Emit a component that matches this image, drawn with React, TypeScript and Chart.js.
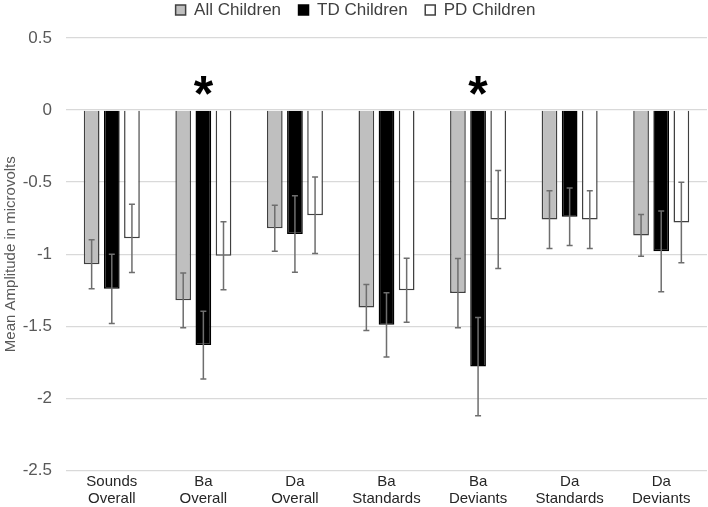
import React, { useEffect, useRef } from "react";
import { Chart, registerables } from "chart.js";

Chart.register(...registerables);

const categories: string[][] = [
  ["Sounds", "Overall"],
  ["Ba", "Overall"],
  ["Da", "Overall"],
  ["Ba", "Standards"],
  ["Ba", "Deviants"],
  ["Da", "Standards"],
  ["Da", "Deviants"],
];

const allChildren = [-1.07, -1.32, -0.82, -1.37, -1.27, -0.76, -0.87];
const tdChildren = [-1.24, -1.63, -0.86, -1.49, -1.78, -0.74, -0.98];
const pdChildren = [-0.89, -1.01, -0.73, -1.25, -0.76, -0.76, -0.78];

const allErr = [0.17, 0.19, 0.16, 0.16, 0.24, 0.2, 0.145];
const tdErr = [0.24, 0.235, 0.265, 0.223, 0.34, 0.2, 0.28];
const pdErr = [0.237, 0.236, 0.266, 0.222, 0.34, 0.2, 0.28];

// categories marked with an asterisk (significant)
const significant = [1, 4];
const asteriskValue = 0.17;

const FONT = "'Liberation Sans', Arial, sans-serif";

const errorBarPlugin = {
  id: "errorBars",
  afterDatasetsDraw(chart: any) {
    const ctx = chart.ctx;
    const y = chart.scales.y;
    const errs = [allErr, tdErr, pdErr];
    chart.data.datasets.forEach((ds: any, i: number) => {
      const meta = chart.getDatasetMeta(i);
      meta.data.forEach((el: any, j: number) => {
        const v = ds.data[j];
        const e = errs[i][j];
        const x = el.x;
        const yt = y.getPixelForValue(v + e);
        const yb = y.getPixelForValue(v - e);
        ctx.save();
        ctx.strokeStyle = "#6e6e6e";
        ctx.lineWidth = 1.5;
        ctx.beginPath();
        ctx.moveTo(x, yt);
        ctx.lineTo(x, yb);
        ctx.moveTo(x - 3, yt);
        ctx.lineTo(x + 3, yt);
        ctx.moveTo(x - 3, yb);
        ctx.lineTo(x + 3, yb);
        ctx.stroke();
        ctx.restore();
      });
    });
    const meta = chart.getDatasetMeta(1);
    significant.forEach((j) => {
      const el: any = meta.data[j];
      ctx.save();
      ctx.fillStyle = "#000";
      ctx.font = "bold 50px 'Liberation Sans', Arial, sans-serif";
      ctx.textAlign = "center";
      ctx.textBaseline = "alphabetic";
      ctx.fillText("*", el.x, y.getPixelForValue(asteriskValue) + 25);
      ctx.restore();
    });
  },
};

const legendPlacement = {
  id: "legendPlacement",
  beforeInit(chart: any) {
    const legend = chart.legend;
    if (!legend) return;
    const fit = legend.fit;
    legend.fit = function () {
      fit.call(legend);
      this.height = 38;
    };
  },
  afterLayout(chart: any) {
    const legend = chart.legend;
    if (!legend) return;
    legend.top -= 16;
    legend.bottom -= 16;
    legend.left += 1;
    legend.right += 1;
  },
};

export default function App() {
  const ref = useRef<HTMLCanvasElement>(null);
  useEffect(() => {
    if (!ref.current) return;
    const chart = new Chart(ref.current, {
      type: "bar",
      data: {
        labels: categories,
        datasets: [
          {
            label: "All Children",
            data: allChildren,
            backgroundColor: "#bfbfbf",
            borderColor: "#404040",
            borderWidth: 1.5,
          },
          {
            label: "TD Children",
            data: tdChildren,
            backgroundColor: "#000000",
            borderColor: "#000000",
            borderWidth: 1.5,
          },
          {
            label: "PD Children",
            data: pdChildren,
            backgroundColor: "#ffffff",
            borderColor: "#404040",
            borderWidth: 1.5,
          },
        ],
      },
      options: {
        animation: false,
        responsive: true,
        maintainAspectRatio: false,
        categoryPercentage: 0.66,
        barPercentage: 0.78,
        layout: { padding: { left: 2, right: 1, top: 0, bottom: -3 } },
        plugins: {
          legend: {
            position: "top",
            labels: {
              boxWidth: 10,
              boxHeight: 10,
              padding: 17.5,
              color: "#404040",
              font: { family: FONT, size: 17 },
            },
          },
          tooltip: { enabled: false },
        },
        scales: {
          x: {
            grid: { display: false, drawTicks: false },
            border: { display: false },
            ticks: {
              color: "#262626",
              font: { family: FONT, size: 15, lineHeight: 1.12 },
              padding: 3,
              maxRotation: 0,
              autoSkip: false,
            },
          },
          y: {
            min: -2.5,
            max: 0.5,
            afterFit: (scale: any) => {
              scale.width = 64;
            },
            ticks: {
              stepSize: 0.5,
              color: "#595959",
              font: { family: FONT, size: 17 },
              padding: 14,
              callback: (v: any) => String(Number(v)),
            },
            grid: { color: "#d9d9d9", lineWidth: 1.3, drawTicks: false },
            border: { display: false },
            title: {
              display: true,
              text: "Mean Amplitude in microvolts",
              color: "#595959",
              font: { family: FONT, size: 15 },
              padding: { top: 0, bottom: 1 },
            },
          },
        },
      },
      plugins: [errorBarPlugin, legendPlacement],
    });
    return () => chart.destroy();
  }, []);
  return (
    <div style={{ position: "fixed", left: 0, top: 0, width: 708, height: 507, background: "#fff" }}>
      <canvas ref={ref} />
    </div>
  );
}
